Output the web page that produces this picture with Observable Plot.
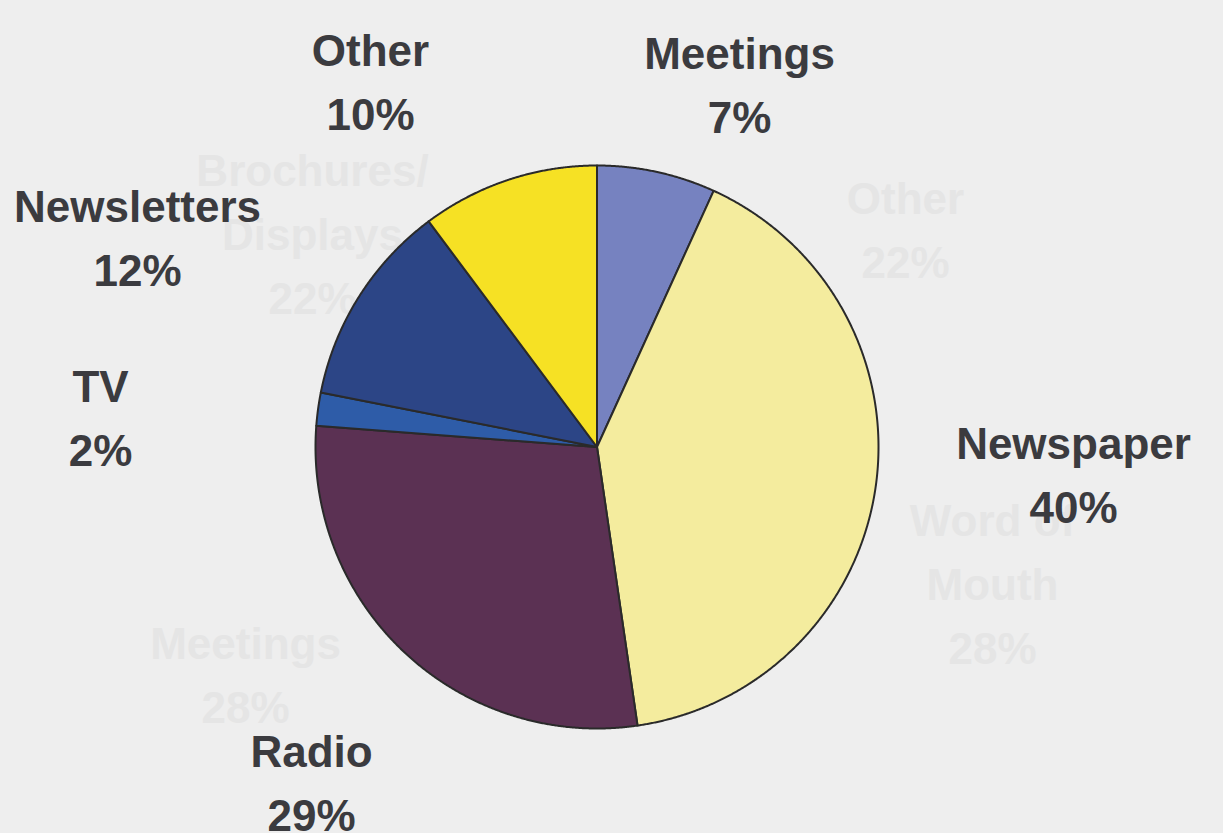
<!DOCTYPE html>
<html><head><meta charset="utf-8">
<script src="https://cdn.jsdelivr.net/npm/d3@7"></script>
<script src="https://cdn.jsdelivr.net/npm/@observablehq/plot@0.6"></script>
<style>
html,body{margin:0;padding:0;background:#eeeeee;}
#chart{width:1223px;height:833px;}
</style></head><body><div id="chart"></div>
<script>
// ---- data ----
const categories = ["Meetings", "Newspaper", "Radio", "TV", "Newsletters", "Other"];
const shares = [6.8, 40.9, 28.5, 1.9, 11.7, 10.2];
const percentLabels = ["7%", "40%", "29%", "2%", "12%", "10%"];
const colors = ["#7682c0", "#f4ec9e", "#5b3153", "#2e5ca8", "#2c4586", "#f6e124"];
const ghostLabels = ["Brochures/\nDisplays\n22%", "Other\n22%", "Word of\nMouth\n28%", "Meetings\n28%"];

// ---- layout ----
const W = 1223, H = 833, CX = 596.5, CY = 446.5, R = 281.5;
const FONT = 44, LINE = 64;
const labelAnchor = {Meetings: [739, 23], Newspaper: [1073, 413], Radio: [311, 721], TV: [100, 356], Newsletters: [137, 176], Other: [370, 20]};
const ghostAnchor = [[312, 140], [905, 168], [992, 490], [245, 613]];
const ux = px => (px - CX) / R, uy = py => (CY - py) / R;

const slices = categories.map((name, i) => ({name, share: shares[i], pct: percentLabels[i]}));
const arcs = d3.pie().sort(null).value(d => d.share)(slices);
const pts = [];
for (const a of arcs) {
  const n = Math.max(2, Math.ceil((a.endAngle - a.startAngle) / 0.004));
  pts.push({name: a.data.name, x: 0, y: 0});
  for (let i = 0; i <= n; i++) {
    const t = a.startAngle + (a.endAngle - a.startAngle) * i / n;
    pts.push({name: a.data.name, x: Math.sin(t), y: Math.cos(t)});
  }
}
const labels = slices.map(d => ({text: d.name + "\n" + d.pct, x: ux(labelAnchor[d.name][0]), y: uy(labelAnchor[d.name][1])}));
const ghosts = ghostLabels.map((t, i) => ({text: t, x: ux(ghostAnchor[i][0]), y: uy(ghostAnchor[i][1])}));

const chart = Plot.plot({
  width: W, height: H, margin: 0,
  style: {background: "#eeeeee"},
  x: {domain: [-CX / R, (W - CX) / R], axis: null},
  y: {domain: [(CY - H) / R, CY / R], axis: null},
  color: {domain: categories, range: colors},
  marks: [
    Plot.text(ghosts, {x: "x", y: "y", text: "text", lineAnchor: "top", lineHeight: LINE / FONT,
      fontSize: FONT, fontWeight: "bold", fontFamily: "Liberation Sans, Arial, sans-serif", fill: "#e5e5e5"}),
    Plot.line(pts, {x: "x", y: "y", z: "name", fill: "name", stroke: "#2a2a2a", strokeWidth: 2, curve: "linear-closed"}),
    Plot.text(labels, {x: "x", y: "y", text: "text", lineAnchor: "top", lineHeight: LINE / FONT,
      fontSize: FONT, fontWeight: "bold", fontFamily: "Liberation Sans, Arial, sans-serif", fill: "#3b3b3f"})
  ]
});
document.getElementById("chart").appendChild(chart);
</script></body></html>
